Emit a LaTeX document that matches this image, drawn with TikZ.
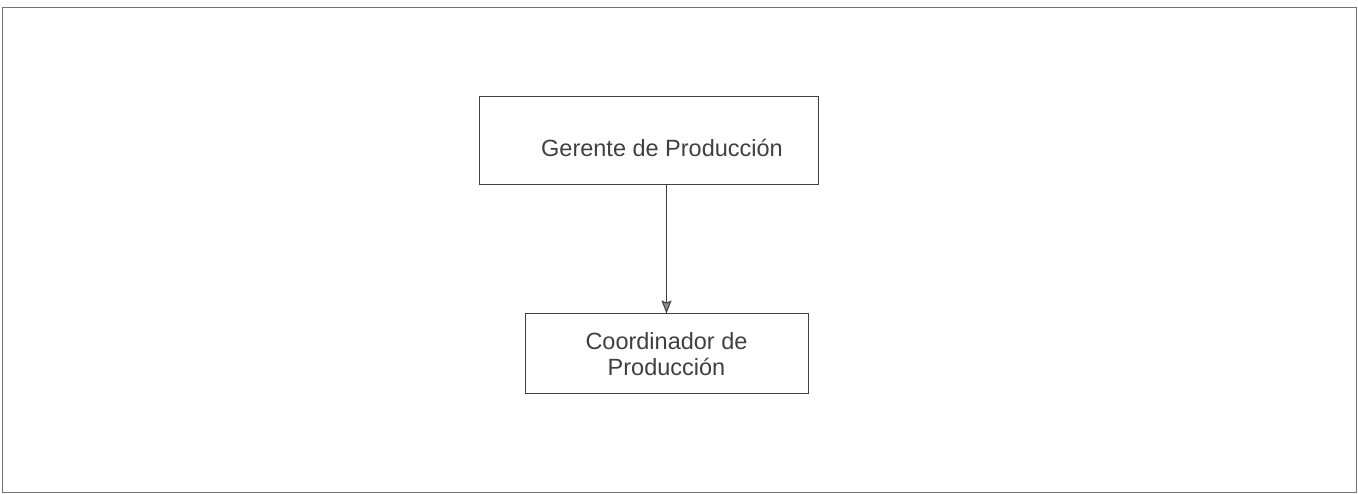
\documentclass[tikz,border=0pt]{standalone}
\usepackage{fontspec}
\setmainfont{Liberation Sans}
\usetikzlibrary{arrows.meta, positioning}

\begin{document}
\begin{tikzpicture} [x=1pt, y=1pt,
  cargo/.style = {draw=black!75, line width=1pt, align=center, inner sep=0pt,
    font=\fontsize{23.5}{26.5}\selectfont, text=black!75}]
\useasboundingbox (0,0) rectangle (1358,493);
\draw [black!55, line width=1pt] (2,1) rectangle (1356,485);
\node[cargo, minimum width=339pt, minimum height=88pt, text height=32pt, text depth=0pt] (gerente) at (648.5,352) {\hspace*{27pt}Gerente de Producci\'on};
\node[cargo, minimum width=283pt, minimum height=80pt, below=128pt of gerente, xshift=18pt] (coord) {Coordinador de\\Producci\'on};
\draw [-{Stealth[length=13pt, width=10pt, inset=2pt, fill=black!45]}, black!75, line width=1pt] (gerente.south -| coord.north) -- (coord.north);
\end{tikzpicture}
\end{document}
